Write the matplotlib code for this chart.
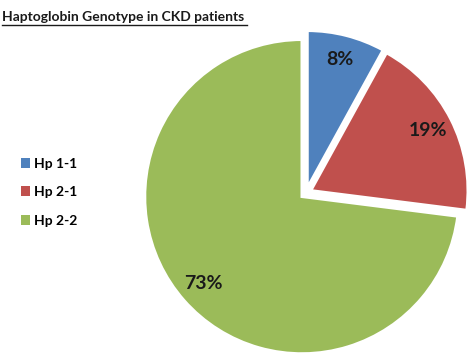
import matplotlib
matplotlib.use('Agg')
import matplotlib.pyplot as plt
from matplotlib.patches import Patch

plt.rcParams['font.family'] = ['Lato', 'DejaVu Sans']

genotypes = ['Hp 1-1', 'Hp 2-1', 'Hp 2-2']
percents = [8, 19, 73]
colors = ['#4F81BD', '#C0504D', '#9BBB59']
title = 'Haptoglobin Genotype in CKD patients'

W, H = 472, 359
fig = plt.figure(figsize=(W / 100, H / 100), dpi=100)
ax = fig.add_axes([0, 0, 1, 1])

wedges, texts, autotexts = ax.pie(
    percents, colors=colors, startangle=90, counterclock=False,
    explode=[0.035, 0.035, 0.035], autopct='%d%%', pctdistance=0.84,
    wedgeprops=dict(edgecolor='white', linewidth=2))
for t in autotexts:
    t.set_fontsize(14)
    t.set_fontweight('bold')
    t.set_color('#1a1a1a')

# pie centre and radius in pixels (limits set after pie, which resets them)
cx, cy, r = 306, 193, 157
ax.set_aspect('auto')
ax.set_xlim(-cx / r, (W - cx) / r)
ax.set_ylim(-(H - cy) / r, cy / r)
ax.axis('off')

fig.text(2 / W, 1 - 17 / H, title, fontsize=10, fontweight='bold',
         color='#1a1a1a', ha='left', va='center')
# underline
fig.add_artist(plt.Line2D([2 / W, 247 / W], [1 - 25 / H, 1 - 25 / H],
                          color='#1a1a1a', linewidth=1))

handles = [Patch(facecolor=c, edgecolor='none') for c in colors]
fig.legend(handles, genotypes, loc='upper left',
           bbox_to_anchor=(8 / W, 1 - 145 / H), frameon=False,
           handlelength=0.7, handleheight=0.7,
           handletextpad=0.3, labelspacing=1.2,
           prop=dict(weight='bold', size=10))

fig.savefig('out.png', dpi=100)
